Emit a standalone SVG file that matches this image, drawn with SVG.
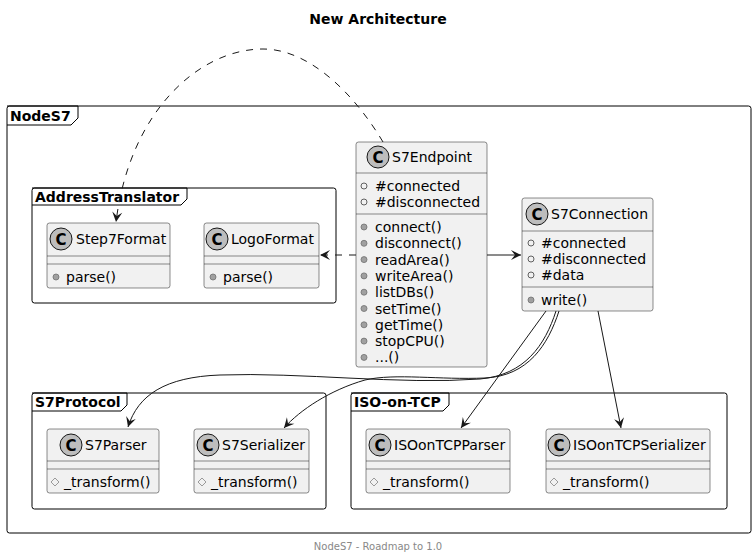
<svg xmlns="http://www.w3.org/2000/svg" width="756" height="556" viewBox="0 0 756 556">
<style>
text{font-family:"DejaVu Sans",sans-serif;fill:#000}
.title{font-size:14px;font-weight:bold}
.ftab{font-size:14px;font-weight:bold}
.frame{fill:none;stroke:#000;stroke-width:1}
.box{fill:#F1F1F1;stroke:#181818;stroke-width:0.5}
.sep{stroke:#181818;stroke-width:0.5}
.ci{fill:#BDBDBD;stroke:#181818;stroke-width:1}
.cl{font-size:15px;font-weight:bold;text-anchor:middle}
.nm{font-size:14px}
.mb{font-size:14px}
.fld{fill:none;stroke:#606060;stroke-width:1}
.mth{fill:#A0A0A0;stroke:#707070;stroke-width:0.8}
.prt{fill:none;stroke:#9A9A9A;stroke-width:1}
.ln{fill:none;stroke:#181818;stroke-width:1}
.dash{stroke-dasharray:7,7}
.foot{font-size:10px;fill:#888;text-anchor:middle}
</style>
<defs>
<marker id="ah" markerUnits="userSpaceOnUse" markerWidth="12" markerHeight="12" viewBox="-11 -6 12 12" refX="0" refY="0" orient="auto">
<path d="M0,0 L-10,-5 L-6,0 L-10,5 Z" fill="#181818"/>
</marker>
</defs>

<text class="title" x="378" y="24" text-anchor="middle">New Architecture</text>

<g id="frame-NodeS7">
<rect class="frame" x="7" y="106" width="744" height="427" rx="2.5"/>
<path class="frame" d="M7,106 H78 V118 L71,125 H7"/>
<text class="ftab" x="10" y="121">NodeS7</text>
</g>
<g id="frame-AddressTranslator">
<rect class="frame" x="32" y="188" width="304" height="115" rx="2.5"/>
<path class="frame" d="M32,188 H187 V199 L181,205 H32"/>
<text class="ftab" x="35" y="202">AddressTranslator</text>
</g>
<g id="frame-S7Protocol">
<rect class="frame" x="32" y="393" width="294" height="116" rx="2.5"/>
<path class="frame" d="M32,393 H127 V405 L121,411 H32"/>
<text class="ftab" x="35" y="407">S7Protocol</text>
</g>
<g id="frame-ISO-on-TCP">
<rect class="frame" x="351" y="393" width="376" height="116" rx="2.5"/>
<path class="frame" d="M351,393 H449 V405 L443,411 H351"/>
<text class="ftab" x="354" y="407">ISO-on-TCP</text>
</g>

<g id="Step7Format">
<rect class="box" x="47" y="223" width="123" height="65" rx="2.5"/>
<circle class="ci" cx="61" cy="239" r="11"/><text class="cl" x="61" y="244.5">C</text>
<text class="nm" x="76" y="244">Step7Format</text>
<line class="sep" x1="47" y1="256" x2="170" y2="256"/>
<line class="sep" x1="47" y1="264" x2="170" y2="264"/>
<circle class="mth" cx="56" cy="277" r="3"/><text class="mb" x="66" y="282">parse()</text>
</g>

<g id="LogoFormat">
<rect class="box" x="204" y="223" width="115" height="65" rx="2.5"/>
<circle class="ci" cx="217" cy="239" r="11"/><text class="cl" x="217" y="244.5">C</text>
<text class="nm" x="231" y="244">LogoFormat</text>
<line class="sep" x1="204" y1="256" x2="319" y2="256"/>
<line class="sep" x1="204" y1="264" x2="319" y2="264"/>
<circle class="mth" cx="213" cy="277" r="3"/><text class="mb" x="223" y="282">parse()</text>
</g>

<g id="S7Endpoint">
<rect class="box" x="356" y="142" width="131" height="225" rx="2.5"/>
<circle class="ci" cx="378" cy="157" r="11"/><text class="cl" x="378" y="162.5">C</text>
<text class="nm" x="392" y="162">S7Endpoint</text>
<line class="sep" x1="356" y1="173" x2="487" y2="173"/>
<circle class="fld" cx="364" cy="186" r="3"/><text class="mb" x="375" y="191">#connected</text>
<circle class="fld" cx="364" cy="202" r="3"/><text class="mb" x="375" y="207">#disconnected</text>
<line class="sep" x1="356" y1="214" x2="487" y2="214"/>
<circle class="mth" cx="364" cy="227" r="3"/><text class="mb" x="375" y="232">connect()</text>
<circle class="mth" cx="364" cy="243.3" r="3"/><text class="mb" x="375" y="248.3">disconnect()</text>
<circle class="mth" cx="364" cy="259.6" r="3"/><text class="mb" x="375" y="264.6">readArea()</text>
<circle class="mth" cx="364" cy="275.9" r="3"/><text class="mb" x="375" y="280.9">writeArea()</text>
<circle class="mth" cx="364" cy="292.2" r="3"/><text class="mb" x="375" y="297.2">listDBs()</text>
<circle class="mth" cx="364" cy="308.5" r="3"/><text class="mb" x="375" y="313.5">setTime()</text>
<circle class="mth" cx="364" cy="324.8" r="3"/><text class="mb" x="375" y="329.8">getTime()</text>
<circle class="mth" cx="364" cy="341.1" r="3"/><text class="mb" x="375" y="346.1">stopCPU()</text>
<circle class="mth" cx="364" cy="357.4" r="3"/><text class="mb" x="375" y="362.4">...()</text>
</g>

<g id="S7Connection">
<rect class="box" x="522" y="198" width="131" height="113" rx="2.5"/>
<circle class="ci" cx="537" cy="214" r="11"/><text class="cl" x="537" y="219.5">C</text>
<text class="nm" x="551" y="219">S7Connection</text>
<line class="sep" x1="522" y1="231" x2="653" y2="231"/>
<circle class="fld" cx="531" cy="243" r="3"/><text class="mb" x="541" y="248">#connected</text>
<circle class="fld" cx="531" cy="259" r="3"/><text class="mb" x="541" y="264">#disconnected</text>
<circle class="fld" cx="531" cy="275" r="3"/><text class="mb" x="541" y="280">#data</text>
<line class="sep" x1="522" y1="287" x2="653" y2="287"/>
<circle class="mth" cx="531" cy="300" r="3"/><text class="mb" x="541" y="305">write()</text>
</g>

<g id="S7Parser">
<rect class="box" x="47" y="429" width="112" height="64" rx="2.5"/>
<circle class="ci" cx="71" cy="445" r="11"/><text class="cl" x="71" y="450.5">C</text>
<text class="nm" x="85" y="450">S7Parser</text>
<line class="sep" x1="47" y1="461" x2="159" y2="461"/>
<line class="sep" x1="47" y1="469" x2="159" y2="469"/>
<path class="prt" d="M51,482 L55,478 L59,482 L55,486 Z"/><text class="mb" x="64" y="487">_transform()</text>
</g>

<g id="S7Serializer">
<rect class="box" x="194" y="429" width="115" height="64" rx="2.5"/>
<circle class="ci" cx="208" cy="445" r="11"/><text class="cl" x="208" y="450.5">C</text>
<text class="nm" x="222" y="450">S7Serializer</text>
<line class="sep" x1="194" y1="461" x2="309" y2="461"/>
<line class="sep" x1="194" y1="469" x2="309" y2="469"/>
<path class="prt" d="M198,482 L202,478 L206,482 L202,486 Z"/><text class="mb" x="211" y="487">_transform()</text>
</g>

<g id="ISOonTCPParser">
<rect class="box" x="366" y="429" width="144" height="64" rx="2.5"/>
<circle class="ci" cx="380" cy="445" r="11"/><text class="cl" x="380" y="450.5">C</text>
<text class="nm" x="394" y="450">ISOonTCPParser</text>
<line class="sep" x1="366" y1="461" x2="510" y2="461"/>
<line class="sep" x1="366" y1="469" x2="510" y2="469"/>
<path class="prt" d="M370,482 L374,478 L378,482 L374,486 Z"/><text class="mb" x="383" y="487">_transform()</text>
</g>

<g id="ISOonTCPSerializer">
<rect class="box" x="546" y="429" width="164" height="64" rx="2.5"/>
<circle class="ci" cx="559" cy="445" r="11"/><text class="cl" x="559" y="450.5">C</text>
<text class="nm" x="573" y="450">ISOonTCPSerializer</text>
<line class="sep" x1="546" y1="461" x2="710" y2="461"/>
<line class="sep" x1="546" y1="469" x2="710" y2="469"/>
<path class="prt" d="M550,482 L554,478 L558,482 L554,486 Z"/><text class="mb" x="563" y="487">_transform()</text>
</g>

<g id="connectors">
<path class="ln dash" d="M383,142 C355,95 310,49 263,49 C200,49 130,110 116,222" marker-end="url(#ah)"/>
<path class="ln dash" d="M356,255 L320,255" marker-end="url(#ah)"/>
<path class="ln" d="M487,255 L521,255" marker-end="url(#ah)"/>
<path class="ln" d="M598,311 L621,428" marker-end="url(#ah)"/>
<path class="ln" d="M546,311 L461,428" marker-end="url(#ah)"/>
<path class="ln" d="M556,311 C545,345 525,375 480,379 C400,385 300,372 220,375 C165,377 138,395 128,427" marker-end="url(#ah)"/>
<path class="ln" d="M559,311 C548,345 528,376 485,378 C440,380 395,373 365,380 C330,390 300,410 284,428" marker-end="url(#ah)"/>
</g>

<text class="foot" x="378" y="550">NodeS7 - Roadmap to 1.0</text>
</svg>
